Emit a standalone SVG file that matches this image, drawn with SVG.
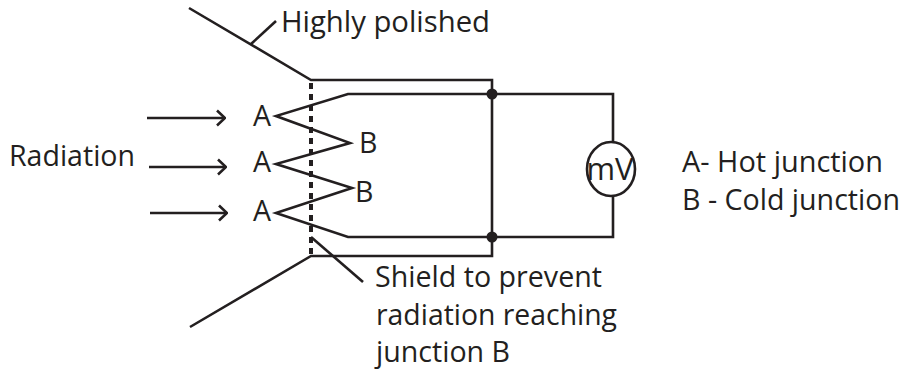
<svg xmlns="http://www.w3.org/2000/svg" width="903" height="370" viewBox="0 0 903 370">
<defs>
<style>
.w{fill:none;stroke:#231f20;stroke-width:2.6}
.t{font-family:"Open Sans","Noto Sans",sans-serif;font-size:28.500px;fill:#231f20}
</style>
<marker id="arr" viewBox="0 0 14 18" refX="13" refY="9" markerWidth="14" markerHeight="18" markerUnits="userSpaceOnUse" orient="auto"><path d="M5 1.5L13 9L5 16.500" fill="none" stroke="#231f20" stroke-width="2.600"/></marker>
</defs>
<rect width="903" height="370" fill="#fff"/>
<g id="connectors">
<path class="w" d="M189 8L311 80H492V256H311L190 327"/>
<path class="w" d="M311 83V256" stroke-dasharray="6 5" style="stroke-width:4"/>
<path class="w" d="M613 155V94H348L276 116L350 143L276 164L352 188L276 213L348 237H613V190"/>
<path class="w" d="M251 44L276 21"/>
<path class="w" d="M311 237L363 282"/>
<path class="w" d="M147 118H225" marker-end="url(#arr)"/>
<path class="w" d="M149 167H226" marker-end="url(#arr)"/>
<path class="w" d="M150 213H227" marker-end="url(#arr)"/>
</g>
<g id="junction-top"><circle cx="492" cy="94" r="5.500" fill="#231f20"/></g>
<g id="junction-bottom"><circle cx="492" cy="237" r="5.500" fill="#231f20"/></g>
<g id="meter"><ellipse cx="611" cy="169" rx="24" ry="27" fill="#fff" stroke="#231f20" stroke-width="2.600"/><text class="t" x="610" y="180" text-anchor="middle" style="font-size:31px" textLength="47" lengthAdjust="spacingAndGlyphs">mV</text></g>
<g id="labels">
<text class="t" x="281" y="32" textLength="209" lengthAdjust="spacingAndGlyphs">Highly polished</text>
<text class="t" x="9" y="166" textLength="126" lengthAdjust="spacingAndGlyphs">Radiation</text>
<text class="t" x="253" y="126">A</text>
<text class="t" x="253" y="172">A</text>
<text class="t" x="253" y="221">A</text>
<text class="t" x="359" y="153">B</text>
<text class="t" x="355" y="202">B</text>
<text class="t" x="682" y="172" textLength="201" lengthAdjust="spacingAndGlyphs">A- Hot junction</text>
<text class="t" x="682" y="210" textLength="218" lengthAdjust="spacingAndGlyphs">B - Cold junction</text>
<text class="t" x="375" y="287" textLength="227" lengthAdjust="spacingAndGlyphs">Shield to prevent</text>
<text class="t" x="376" y="325" textLength="241" lengthAdjust="spacingAndGlyphs">radiation reaching</text>
<text class="t" x="376" y="362" textLength="134" lengthAdjust="spacingAndGlyphs">junction B</text>
</g>
</svg>
